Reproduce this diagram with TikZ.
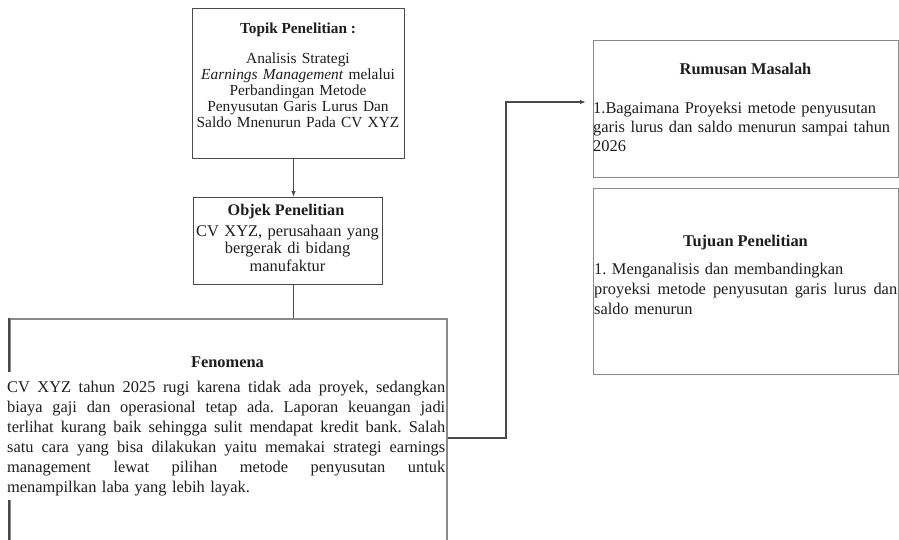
\documentclass[tikz,border=0pt]{standalone}
\usepackage{fontspec}
\setmainfont{Liberation Serif}
\usetikzlibrary{arrows.meta}
\definecolor{linegray}{HTML}{4A4A4A}
\definecolor{lightline}{HTML}{8A8A8A}
\definecolor{inkcol}{HTML}{1E1E1E}
\frenchspacing
\hyphenpenalty=10000
\newcommand\jline[2]{\leavevmode\hbox to #1{\spaceskip=0.25em plus 3em\relax #2}}
\begin{document}
\begin{tikzpicture}[x=1pt,y=-1pt,
  box/.style={draw=linegray, line width=1.1pt, inner sep=0pt, anchor=north west},
  txt/.style={inner sep=0pt, text=inkcol},
  conn/.style={draw=linegray, line width=1.1pt},
  tip/.style={-{Latex[length=6pt,width=4.5pt]}},
  fbody/.style={font=\fontsize{15.4}{16.2}\selectfont},
  fwide/.style={font=\fontsize{16.4}{20}\selectfont},
  ftitle/.style={font=\fontsize{16.4}{20}\selectfont\bfseries}
]
\useasboundingbox (0,0) rectangle (899,539);
\fill[white] (0,0) rectangle (899,539);
\clip (0,0) rectangle (899,539);

% boxes
\node[box, minimum width=212pt, minimum height=150pt] (topik) at (192,8) {};
\node[box, minimum width=189pt, minimum height=87pt] (objek) at (193,197) {};
\node[box, draw=lightline, line width=1.6pt, minimum width=437pt, minimum height=300pt] (fen) at (9,318) {};
\draw[linegray, line width=1.1pt] (fen.north west) -- (fen.south west);
\node[box, draw=lightline, minimum width=305pt, minimum height=137pt] (rum) at (593,40) {};
\node[box, draw=lightline, minimum width=305pt, minimum height=186pt] (tuj) at (593,188) {};

% connectors
\coordinate (ax) at (293.5,0);
\draw[conn, tip] (topik.south -| ax) -- (objek.north -| ax);
\draw[conn] (objek.south -| ax) -- (fen.north -| ax);
\coordinate (c1) at (506,438);
\coordinate (c2) at (506,102);
\draw[conn, tip, shorten >=7pt] (c1 -| fen.east) -- (c1) -- (c2) -- (c2 -| rum.west);

% Topik text
\node[txt, anchor=base, font=\fontsize{15.3}{18}\selectfont\bfseries] (topikT) at (298,33) {Topik Penelitian :};
\node[txt, fbody, anchor=base, text width=260pt, align=center] (topikB) at (298,63)
  {Analisis Strategi\\ \textit{Earnings Management} melalui\\ Perbandingan Metode\\ Penyusutan Garis Lurus Dan\\ Saldo Mnenurun Pada CV XYZ};

% Objek text
\node[txt, anchor=base, font=\fontsize{16.2}{18}\selectfont\bfseries] (objekT) at (286,215) {Objek Penelitian};
\node[txt, anchor=base, text width=240pt, align=center, font=\fontsize{16.4}{17.5}\selectfont] (objekB) at (287.5,236)
  {CV XYZ, perusahaan yang\\ bergerak di bidang\\ manufaktur};

% Fenomena text
\node[txt, ftitle, anchor=base] (fenT) at (227.5,367) {Fenomena};
\fill[white] (6,372) rectangle (440,500);
\node[txt, fwide, anchor=base west, text width=438pt, align=left] (fenB) at (7,392)
  {\jline{438pt}{CV XYZ tahun 2025 rugi karena tidak ada proyek, sedangkan}\\
   \jline{438pt}{biaya gaji dan operasional tetap ada. Laporan keuangan jadi}\\
   \jline{438pt}{terlihat kurang baik sehingga sulit mendapat kredit bank. Salah}\\
   \jline{438pt}{satu cara yang bisa dilakukan yaitu memakai strategi earnings}\\
   \jline{438pt}{management lewat pilihan metode penyusutan untuk}\\
   menampilkan laba yang lebih layak.};

% Rumusan text
\node[txt, ftitle, anchor=base] (rumT) at (745.5,74) {Rumusan Masalah};
\node[txt, anchor=base west, text width=305pt, align=left, font=\fontsize{16.4}{19}\selectfont] (rumB) at (593,113)
  {1.Bagaimana Proyeksi metode penyusutan\\ garis lurus dan saldo menurun sampai tahun\\ 2026};

% Tujuan text
\node[txt, ftitle, anchor=base] (tujT) at (745.5,246) {Tujuan Penelitian};
\node[txt, fwide, anchor=base west, text width=305pt, align=left] (tujB) at (594,274)
  {1. Menganalisis dan membandingkan\\
   \jline{303pt}{proyeksi metode penyusutan garis lurus dan}\\
   saldo menurun};
\end{tikzpicture}
\end{document}
